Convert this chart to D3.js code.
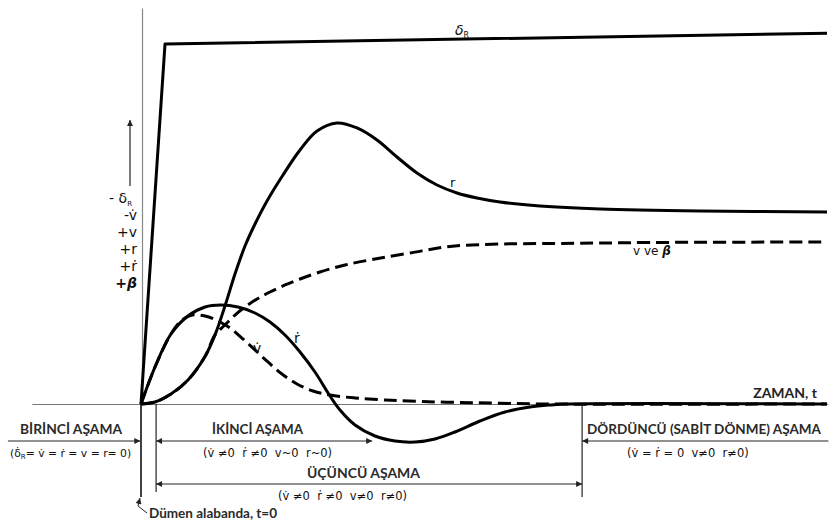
<!DOCTYPE html>
<html><head><meta charset="utf-8">
<script src="https://cdn.jsdelivr.net/npm/d3@7"></script>
<style>
body{margin:0;background:#fff;}
svg{display:block;}
</style></head>
<body>
<svg id="c" width="830" height="521"></svg>
<script>
// ---- data (time t in 0..100, response in arbitrary units) ----
const deltaR = [[0,0],[3.5,100],[100,103]];
const rSeries = [[0,0],[2.04,0.56],[4.37,2.78],[6.85,6.67],[9.33,13.2],[10.79,19.2],[12.24,27.22],[13.70,36.11],[15.16,43.89],[16.62,50.0],[18.37,56.39],[20.70,63.61],[23.18,70.56],[25.66,75.83],[28.57,78.06],[31.49,76.67],[34.40,73.33],[37.32,68.61],[40.23,64.17],[43.15,60.83],[46.06,58.61],[48.98,57.22],[52.33,56.11],[58.16,55.0],[66.91,54.17],[81.49,53.61],[100,53.33]];
const rDot = [[0,0],[2.04,10.28],[4.37,19.44],[6.85,24.44],[9.33,26.94],[11.66,27.5],[14.14,26.94],[16.62,25.28],[18.80,22.78],[20.99,19.17],[23.18,14.44],[25.36,8.89],[27.55,2.22],[29.01,-1.67],[31.20,-5.83],[34.11,-8.89],[37.03,-10.28],[39.94,-10.56],[42.86,-9.72],[45.77,-7.78],[49.42,-4.72],[53.06,-2.22],[56.71,-0.83],[59.62,-0.28],[62.54,0],[100,0]];
const vDot = [[0,0],[2.04,10.28],[4.37,19.44],[5.98,23.33],[7.43,24.72],[9.33,24.44],[11.22,23.06],[12.97,21.11],[14.72,18.33],[16.62,15.0],[18.51,11.67],[20.55,8.33],[22.74,5.56],[25.07,3.61],[27.55,2.5],[31.2,1.67],[35.57,1.11],[40.67,0.69],[46.5,0.42],[52.33,0.22],[58.89,0],[100,0]];
const vBeta = [[0,0],[2.04,0.56],[4.37,2.78],[6.85,6.67],[9.33,13.2],[10.79,19.2],[12.24,21.94],[13.70,24.72],[15.16,26.94],[16.91,29.17],[18.80,31.11],[20.99,33.06],[23.18,34.72],[26.09,36.67],[29.74,38.61],[34.11,40.28],[39.21,41.94],[45.04,43.75],[52.33,44.44],[61.08,44.58],[74.2,44.86],[100,45.0]];
const axisLabels = ["- δ", "-v\u0307", "+v", "+r", "+r\u0307", "+β"];
const stageNames = ["BİRİNCİ AŞAMA","İKİNCİ AŞAMA","ÜÇÜNCÜ AŞAMA","DÖRDÜNCÜ (SABİT DÖNME) AŞAMA"];
const stageConds = ["(δ\u0307","(v\u0307 ≠0  r\u0307 ≠0  v~0  r~0)","(v\u0307 ≠0  r\u0307 ≠0  v≠0  r≠0)","(v\u0307 = r\u0307 = 0  v≠0  r≠0)"];
const stageBounds = [-19.4, 0, 2.2, 33.7, 64.3, 100.2]; // time values for stage boundaries

const svg = d3.select("#c");
const x = d3.scaleLinear().domain([0,100]).range([141,827]);
const y = d3.scaleLinear().domain([-15,100]).range([458,44]);

// defs: arrowheads
const defs = svg.append("defs");
defs.append("marker").attr("id","ah").attr("viewBox","0 0 10 10").attr("refX",10).attr("refY",5)
  .attr("markerWidth",9).attr("markerHeight",6).attr("markerUnits","userSpaceOnUse").attr("orient","auto-start-reverse")
  .append("path").attr("d","M0,0L10,5L0,10z").attr("fill","#222");

// axes (no ticks)
svg.append("g").attr("transform",`translate(0,${y(0)})`)
  .call(d3.axisBottom(d3.scaleLinear().domain([-15.9,100.1]).range([x(-15.9),x(100.1)])).tickValues([]).tickSizeOuter(0))
  .select(".domain").attr("stroke","#777").attr("stroke-width",1.2);
svg.append("g").attr("transform",`translate(${x(0)+1},0)`)
  .call(d3.axisLeft(d3.scaleLinear().domain([0,1]).range([y(0),8])).tickValues([]).tickSizeOuter(0))
  .select(".domain").attr("stroke","#888").attr("stroke-width",1.2);

// curves
const line = d3.line().x(d=>x(d[0])).y(d=>y(d[1])).curve(d3.curveCatmullRom.alpha(0.5));
const lin = d3.line().x(d=>x(d[0])).y(d=>y(d[1]));
svg.append("path").datum(deltaR).attr("d",lin).attr("fill","none").attr("stroke","#000").attr("stroke-width",3).attr("stroke-linejoin","round");
svg.append("path").datum(vBeta).attr("d",line).attr("fill","none").attr("stroke","#000").attr("stroke-width",3).attr("stroke-dasharray","13,6");
svg.append("path").datum(vDot).attr("d",line).attr("fill","none").attr("stroke","#000").attr("stroke-width",3).attr("stroke-dasharray","13,6");
svg.append("path").datum(rSeries).attr("d",line).attr("fill","none").attr("stroke","#000").attr("stroke-width",3);
svg.append("path").datum(rDot).attr("d",line).attr("fill","none").attr("stroke","#000").attr("stroke-width",3);

// curve labels
const lab = (t,xx,yy,size)=>svg.append("text").attr("x",xx).attr("y",yy).attr("font-family","DejaVu Sans, sans-serif").attr("font-size",size).attr("fill","#111").text(t);
const dl = svg.append("text").attr("x",455).attr("y",35).attr("font-family","DejaVu Sans, sans-serif").attr("font-size",14).attr("font-style","italic").attr("fill","#111").text("δ");
dl.append("tspan").attr("font-size",8).attr("font-style","normal").attr("dy",3).text("R");
lab("r",450,187,13);
const vb = lab("v ve ",633,255,12);
vb.append("tspan").attr("font-style","italic").attr("font-weight","bold").text("β");
lab("v\u0307",253,353,14);
lab("r\u0307",294,343,14);

// y-axis sign labels + arrow
svg.append("line").attr("x1",130).attr("y1",186).attr("x2",130).attr("y2",120).attr("stroke","#222").attr("stroke-width",1.2).attr("marker-end","url(#ah)");
axisLabels.forEach((t,i)=>{
  const e = svg.append("text").attr("x",i===0?132:137).attr("y",203+i*17).attr("text-anchor","end")
    .attr("font-family","DejaVu Sans, sans-serif").attr("font-size",14).attr("fill","#111").text(t);
  if(i===0){ e.append("tspan").attr("font-size",7).attr("dy",3).text("R"); }
  if(i===5){ e.attr("font-style","italic").attr("font-weight","bold"); }
});

// ZAMAN, t
svg.append("text").attr("x",817).attr("y",398).attr("text-anchor","end").attr("font-family","Lato, sans-serif").attr("font-weight","bold").attr("font-size",14).attr("fill","#222").text("ZAMAN, t");

// stage boundary verticals
const vline=(t,y1,y2,w)=>svg.append("line").attr("x1",x(t)).attr("x2",x(t)).attr("y1",y1).attr("y2",y2).attr("stroke","#111").attr("stroke-width",w);
vline(stageBounds[1],y(0),497,1.6);
vline(stageBounds[2],y(0),492,1.1);
vline(stageBounds[4],y(0),497,1.1);

// stage arrows
const arrow=(t1,t2,yy,startHead,endHead)=>{
  const l=svg.append("line").attr("x1",x(t1)).attr("x2",x(t2)).attr("y1",yy).attr("y2",yy).attr("stroke","#222").attr("stroke-width",1);
  if(startHead) l.attr("marker-start","url(#ah)");
  if(endHead) l.attr("marker-end","url(#ah)");
};
arrow(stageBounds[0],stageBounds[1]-0.1,441,false,true);
arrow(stageBounds[2],stageBounds[3],441,true,true);
arrow(stageBounds[2],stageBounds[4],484,true,true);
arrow(stageBounds[5],stageBounds[4],441,false,true);

// stage titles
const title=(t,xx,yy,w)=>svg.append("text").attr("x",xx).attr("y",yy).attr("font-family","Lato, sans-serif").attr("font-weight","bold").attr("font-size",13.8).attr("fill","#2a2a2a")
  .attr("textLength",w).attr("lengthAdjust","spacingAndGlyphs").text(t);
title(stageNames[0],20,434,102);
title(stageNames[1],212,434,91);
title(stageNames[2],307,478,113);
title(stageNames[3],587,434,234);

// stage conditions
const cond=(t,xx,yy)=>svg.append("text").attr("x",xx).attr("y",yy).attr("font-family","DejaVu Sans, sans-serif").attr("font-size",11.5).attr("fill","#111").attr("xml:space","preserve").style("white-space","pre").text(t);
const c0 = cond(stageConds[0],10,457).attr("font-size",10.8);
c0.append("tspan").attr("font-size",7).attr("dy",2).text("R");
c0.append("tspan").attr("dy",-2).text("= v\u0307 = r\u0307 = v = r= 0)");
cond(stageConds[1],203,457);
cond(stageConds[2],278,500);
cond(stageConds[3],627,457);

// Dümen alabanda pointer
svg.append("path").attr("d",`M147,513 L138,506 L140,498`).attr("fill","none").attr("stroke","#222").attr("stroke-width",1).attr("marker-end","url(#ah)");
svg.append("text").attr("x",149).attr("y",518).attr("font-family","Lato, sans-serif").attr("font-weight","bold").attr("font-size",13.5).attr("fill","#2a2a2a").text("Dümen alabanda, t=0");
</script>
</body></html>
